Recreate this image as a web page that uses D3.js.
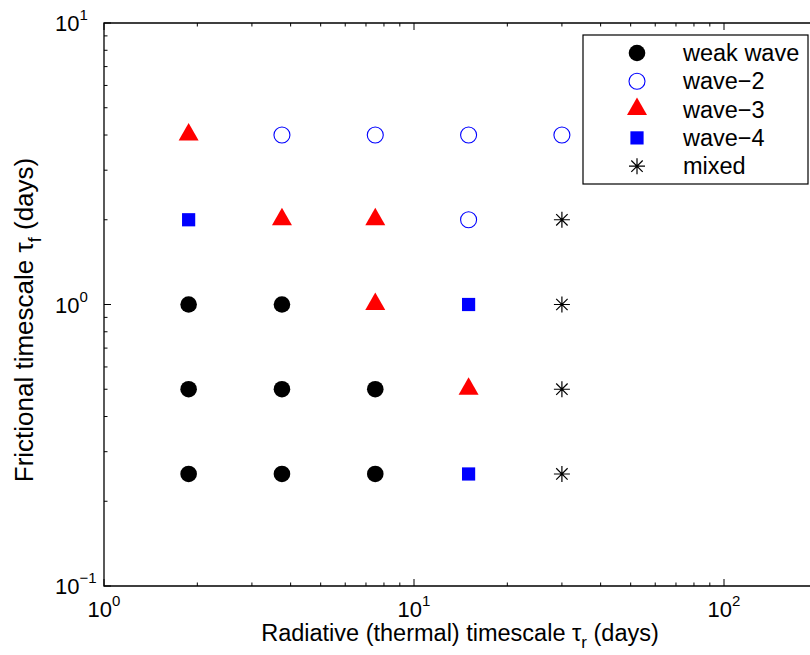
<!DOCTYPE html>
<html>
<head>
<meta charset="utf-8">
<script src="https://cdn.jsdelivr.net/npm/d3@7"></script>
<style>
  body { margin: 0; background: #fff; }
  svg { display: block; font-family: "Liberation Sans", Arial, sans-serif; }
</style>
</head>
<body>
<svg id="chart" width="810" height="655"></svg>
<script>
// radiative timescale (columns) and frictional timescale (rows), days
const tauR = [1.875, 3.75, 7.5, 15, 30];
const tauF = [4, 2, 1, 0.5, 0.25];

// regime found at each (tauF row, tauR column)
const regimeRows = [
    ['wave3', 'wave2', 'wave2', 'wave2', 'wave2'],
    ['wave4', 'wave3', 'wave3', 'wave2', 'mixed'],
    ['weak',  'weak',  'wave3', 'wave4', 'mixed'],
    ['weak',  'weak',  'weak',  'wave3', 'mixed'],
    ['weak',  'weak',  'weak',  'wave4', 'mixed']
];

const categories = ['weak', 'wave2', 'wave3', 'wave4', 'mixed'];
const categoryLabels = ['weak wave', 'wave\u22122', 'wave\u22123', 'wave\u22124', 'mixed'];

const xTickExps = [0, 1, 2];
const yTickExps = [-1, 0, 1];

const margin = { top: 23, left: 104 };
const plotW = 710, plotH = 563;   // right border falls just outside the window

const svg = d3.select('#chart');
const g = svg.append('g').attr('transform', `translate(${margin.left},${margin.top})`);

const x = d3.scaleLog().domain([1, Math.pow(10, plotW / 310)]).range([0, plotW]);
const y = d3.scaleLog().domain([0.1, 10]).range([plotH, 0]);

// Minor/major ticks (inward, MATLAB style)
const xMinor = [], yMinor = [];
for (let e = 0; e <= 2; e++) for (let m = 2; m <= 9; m++) if (m * Math.pow(10, e) < x.domain()[1]) xMinor.push(m * Math.pow(10, e));
for (let e = -1; e <= 0; e++) for (let m = 2; m <= 9; m++) yMinor.push(m * Math.pow(10, e));

const tickG = g.append('g').attr('stroke', '#000').attr('stroke-width', 1);
xMinor.forEach(v => {
    const px = x(v);
    tickG.append('line').attr('x1', px).attr('x2', px).attr('y1', plotH).attr('y2', plotH - 3.5);
    tickG.append('line').attr('x1', px).attr('x2', px).attr('y1', 0).attr('y2', 3.5);
});
xTickExps.forEach(e => {
    const px = x(Math.pow(10, e));
    tickG.append('line').attr('x1', px).attr('x2', px).attr('y1', plotH).attr('y2', plotH - 7);
    tickG.append('line').attr('x1', px).attr('x2', px).attr('y1', 0).attr('y2', 7);
});
yMinor.forEach(v => {
    tickG.append('line').attr('x1', 0).attr('x2', 3.5).attr('y1', y(v)).attr('y2', y(v));
});
yTickExps.forEach(e => {
    tickG.append('line').attr('x1', 0).attr('x2', 7).attr('y1', y(Math.pow(10, e))).attr('y2', y(Math.pow(10, e)));
});

// Axes box (left, top, bottom)
g.append('path')
    .attr('d', `M${plotW},0H0V${plotH}H${plotW}`)
    .attr('fill', 'none').attr('stroke', '#000').attr('stroke-width', 1.3);

// Tick labels: 10^n
function powLabel(sel, e) {
    sel.append('tspan').text('10');
    sel.append('tspan').attr('dy', -11).attr('font-size', 15).text(e < 0 ? '\u2212' + (-e) : e);
}
xTickExps.forEach(e => {
    const t = g.append('text')
        .attr('x', x(Math.pow(10, e))).attr('y', plotH + 31)
        .attr('text-anchor', 'middle').attr('font-size', 22).attr('fill', '#000');
    powLabel(t, e);
});
yTickExps.forEach(e => {
    const t = g.append('text')
        .attr('x', 55 - margin.left).attr('y', y(Math.pow(10, e)) + 8)
        .attr('font-size', 22).attr('fill', '#000');
    powLabel(t, e);
});

// Axis titles
const xt = svg.append('text')
    .attr('x', 460).attr('y', 641)
    .attr('text-anchor', 'middle').attr('font-size', 23.5).attr('fill', '#000');
xt.append('tspan').text('Radiative (thermal) timescale \u03c4');
xt.append('tspan').attr('dy', 7).attr('font-size', 17).text('r');
xt.append('tspan').attr('dy', -7).text(' (days)');

const yt = svg.append('text')
    .attr('transform', 'translate(33,320) rotate(-90)')
    .attr('text-anchor', 'middle').attr('font-size', 26).attr('fill', '#000');
yt.append('tspan').text('Frictional timescale \u03c4');
yt.append('tspan').attr('dy', 8).attr('font-size', 18).text('f');
yt.append('tspan').attr('dy', -8).text(' (days)');

// Markers
function drawMarker(sel, type, cx, cy) {
    if (type === 'weak') {
        sel.append('circle').attr('cx', cx).attr('cy', cy).attr('r', 8.3).attr('fill', '#000');
    } else if (type === 'wave2') {
        sel.append('circle').attr('cx', cx).attr('cy', cy).attr('r', 8)
            .attr('fill', 'none').attr('stroke', '#0000ff').attr('stroke-width', 1.1);
    } else if (type === 'wave3') {
        sel.append('path')
            .attr('d', `M${cx},${cy - 12}L${cx + 10},${cy + 5.5}L${cx - 10},${cy + 5.5}Z`)
            .attr('fill', '#ff0000');
    } else if (type === 'wave4') {
        sel.append('rect').attr('x', cx - 6.6).attr('y', cy - 6.6)
            .attr('width', 13.2).attr('height', 13.2).attr('fill', '#0000ff');
    } else if (type === 'mixed') {
        const a = 8, d = 5.7;
        sel.append('path')
            .attr('d', `M${cx - a},${cy}H${cx + a}M${cx},${cy - a}V${cy + a}` +
                `M${cx - d},${cy - d}L${cx + d},${cy + d}M${cx - d},${cy + d}L${cx + d},${cy - d}`)
            .attr('stroke', '#000').attr('stroke-width', 1.2).attr('fill', 'none');
    }
}

const pts = g.append('g');
regimeRows.forEach((row, i) => {
    row.forEach((type, j) => drawMarker(pts, type, x(tauR[j]), y(tauF[i])));
});

// Legend
const leg = svg.append('g');
leg.append('rect').attr('x', 583).attr('y', 35).attr('width', 225).attr('height', 149)
    .attr('fill', '#fff').attr('stroke', '#000').attr('stroke-width', 1.2);
categories.forEach((c, i) => {
    const cy = 53 + i * 28.3;
    drawMarker(leg, c, 637, cy);
    leg.append('text').attr('x', 683).attr('y', cy + 8)
        .attr('font-size', 23.5).attr('fill', '#000').text(categoryLabels[i]);
});
</script>
</body>
</html>
